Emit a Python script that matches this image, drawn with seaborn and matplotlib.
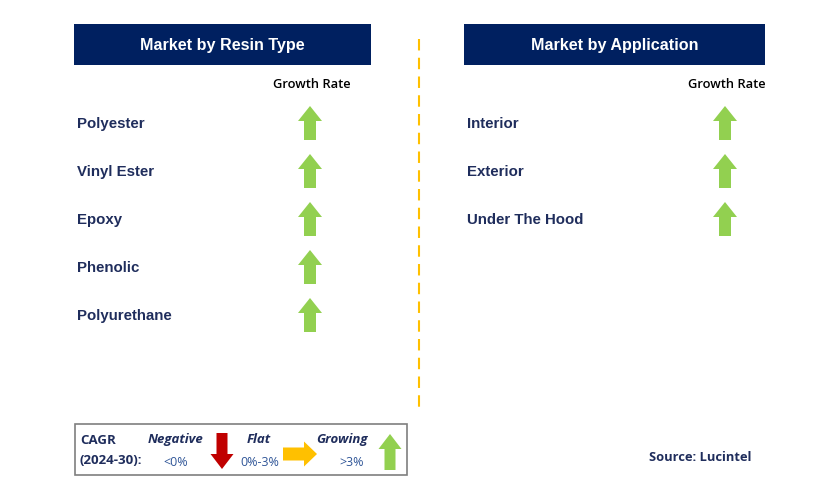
import numpy as np
import pandas as pd
import seaborn as sns
import matplotlib.pyplot as plt
from matplotlib.patches import Polygon, Rectangle

sns.set_theme(style="white")
plt.rcParams['font.family'] = ['Liberation Sans', 'DejaVu Sans']

# data
resin_types = ["Polyester", "Vinyl Ester", "Epoxy", "Phenolic", "Polyurethane"]
resin_growth = ["up", "up", "up", "up", "up"]
applications = ["Interior", "Exterior", "Under The Hood"]
app_growth = ["up", "up", "up"]
panel_titles = ["Market by Resin Type", "Market by Application"]
legend_names = ["Negative", "Flat", "Growing"]
legend_ranges = ["<0%", "0%-3%", ">3%"]
legend_dirs = ["down", "right", "up"]

NAVY = "#002060"
TXT = "#1F2D5C"
colors = {"up": "#92D050", "down": "#C00000", "right": "#FFC000"}

W, H = 829, 502
fig = plt.figure(figsize=(W / 100, H / 100), dpi=100)
ax = fig.add_axes([0, 0, 1, 1])
ax.set_xlim(0, W)
ax.set_ylim(H, 0)
ax.axis("off")


def arrow(cx, cy, d, length=34, width=24, shaft=12, head=15):
    # arrow pointing "up" in local coords, then rotated
    hl, hw, sw = length / 2, width / 2, shaft / 2
    pts = np.array([[0, -hl], [hw, -hl + head], [sw, -hl + head], [sw, hl],
                    [-sw, hl], [-sw, -hl + head], [-hw, -hl + head]])
    if d == "down":
        pts = pts * [1, -1]
    elif d == "right":
        pts = pts[:, ::-1] * [-1, 1]
    ax.add_patch(Polygon(pts + [cx, cy], closed=True, color=colors[d], lw=0))


def panel(x0, x1, title, items, growth, arrow_x):
    ax.add_patch(Rectangle((x0, 25), x1 - x0, 41, color=NAVY, lw=0))
    ax.text((x0 + x1) / 2, 45.5, title, color="white", fontsize=11.6,
            fontweight="bold", ha="center", va="center")
    ax.text(arrow_x + 2, 84, "Growth Rate", color="black", fontsize=9.3,
            ha="center", va="center", family=["Open Sans", "DejaVu Sans"],
            fontweight="semibold")
    for i, (name, g) in enumerate(zip(items, growth)):
        y = 124 + 48 * i
        ax.text(x0 + 3, y, name, color=TXT, fontsize=10.8, fontweight="bold",
                ha="left", va="center")
        arrow(arrow_x, y, g)


panel(74, 371, panel_titles[0], resin_types, resin_growth, 310)
panel(464, 765, panel_titles[1], applications, app_growth, 725)

ax.plot([419, 419], [40, 410], color="#FFC000", lw=1.5, ls=(0, (5.5, 3.5)))

# legend box
ax.add_patch(Rectangle((75, 425), 332, 51, fill=False, ec="#7F7F7F", lw=1.2))
ax.text(80, 441, "CAGR", color=TXT, fontsize=9.5, fontweight="bold",
        ha="left", va="center", family=["Open Sans", "DejaVu Sans"])
ax.text(80, 461, "(2024-30):", color=TXT, fontsize=9.5, fontweight="bold",
        ha="left", va="center", family=["Open Sans", "DejaVu Sans"])
name_x = [176, 259, 342]
range_x = [176, 260, 352]
arrow_pos = [(222, 452), (300, 455), (390, 453)]
for nm, rg, d, nx, rx, ap in zip(legend_names, legend_ranges, legend_dirs,
                                  name_x, range_x, arrow_pos):
    ax.text(nx, 440, nm, color=TXT, fontsize=9.5, fontweight="bold",
            style="italic", ha="center", va="center",
            family=["Open Sans", "DejaVu Sans"])
    ax.text(rx, 463, rg, color="#2F5597", fontsize=9, ha="center",
            va="center", family=["Open Sans", "DejaVu Sans"])
    if d == "right":
        arrow(ap[0], ap[1], d, length=34, width=25, shaft=13, head=13)
    else:
        arrow(ap[0], ap[1], d, length=36, width=23, shaft=11, head=15)

ax.text(700, 458, "Source: Lucintel", color=TXT, fontsize=9.3,
        fontweight="bold", ha="center", va="center",
        family=["Open Sans", "DejaVu Sans"])

fig.savefig("out.png", dpi=100, facecolor="white")
